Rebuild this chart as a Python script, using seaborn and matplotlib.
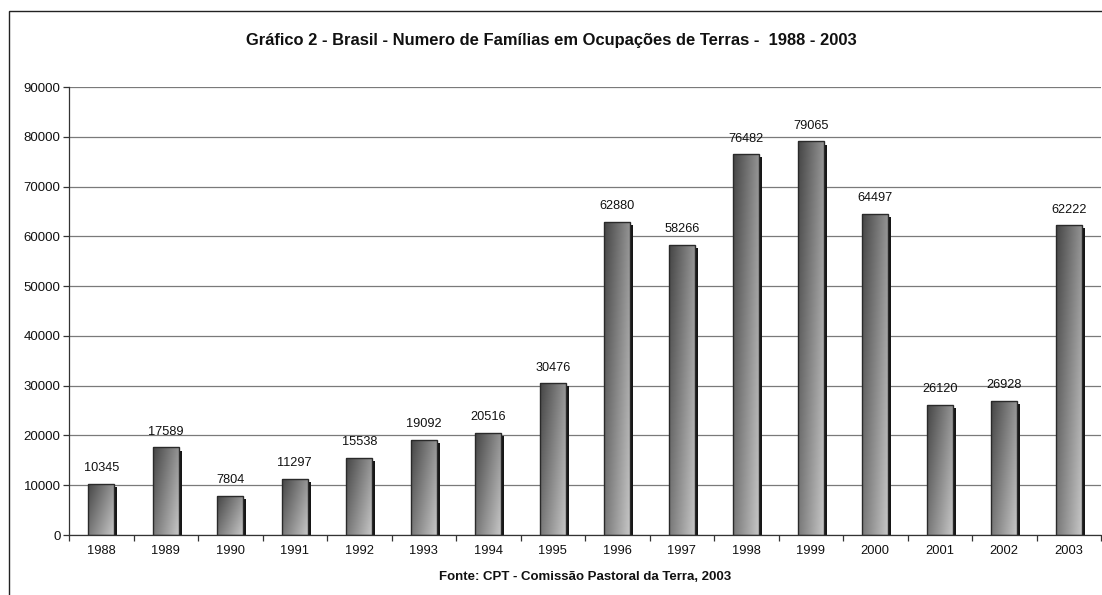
import numpy as np
import pandas as pd
import matplotlib
matplotlib.use("Agg")
import matplotlib.pyplot as plt
import matplotlib.transforms as mtransforms
from matplotlib.patches import Rectangle
import seaborn as sns

years = ["1988", "1989", "1990", "1991", "1992", "1993", "1994", "1995",
         "1996", "1997", "1998", "1999", "2000", "2001", "2002", "2003"]
familias = [10345, 17589, 7804, 11297, 15538, 19092, 20516, 30476,
            62880, 58266, 76482, 79065, 64497, 26120, 26928, 62222]
title = "Gráfico 2 - Brasil - Numero de Famílias em Ocupações de Terras -  1988 - 2003"
source = "Fonte: CPT - Comissão Pastoral da Terra, 2003"

sns.set_theme(style="white")
plt.rcParams["font.family"] = ["Liberation Sans", "DejaVu Sans"]

df = pd.DataFrame({"ano": years, "familias": familias})

fig = plt.figure(figsize=(11.02, 5.95), dpi=100)
ax = fig.add_axes([69 / 1102, 1 - 535 / 595, 1032 / 1102, (535 - 87) / 595])

sns.barplot(data=df, x="ano", y="familias", ax=ax, width=0.4,
            facecolor="none", edgecolor="#2a2a2a", linewidth=1.0, zorder=3)

# gradient + shadow per bar
grad_x = np.linspace(0, 1, 64)
grad_y = np.linspace(0, 1, 256)
GX, GY = np.meshgrid(grad_x, grad_y)
cmap = matplotlib.colors.LinearSegmentedColormap.from_list("g", ["#454545", "#c6c6c6"])
shadow_tr = mtransforms.offset_copy(ax.transData, fig=fig, x=2.3, y=-2.3, units="points")
for p in ax.patches:
    x0, y0 = p.get_x(), p.get_y()
    w, h = p.get_width(), p.get_height()
    sh = Rectangle((x0, y0), w, h, transform=shadow_tr, facecolor="#161616",
                   edgecolor="none", zorder=1.5)
    ax.add_patch(sh)
    # darker at top-left, lighter toward bottom-right
    t = 0.6 * GX + 0.4 * GY
    im = ax.imshow(t, cmap=cmap, extent=(x0, x0 + w, y0, y0 + h),
                   origin="upper", aspect="auto", zorder=2, vmin=0, vmax=1,
                   interpolation="bilinear")
    im.set_clip_path(p)

ax.set_xlim(-0.5, len(years) - 0.5)
ax.set_ylim(0, 90000)
ax.set_yticks(np.arange(0, 90001, 10000))
ax.set_yticklabels([str(v) for v in range(0, 90001, 10000)])
ax.set_axisbelow(True)
ax.yaxis.grid(True, color="#7a7a7a", linewidth=0.9)
ax.xaxis.grid(False)

for s in ["top", "right"]:
    ax.spines[s].set_visible(False)
for s in ["left", "bottom"]:
    ax.spines[s].set_visible(True)
    ax.spines[s].set_color("#333333")
    ax.spines[s].set_linewidth(0.9)

ax.tick_params(axis="y", which="major", length=4, width=0.9, color="#333333",
               labelsize=9.5, pad=2, left=True)
ax.tick_params(axis="x", which="major", length=0, labelsize=9.3, pad=7)
ax.set_xticks(np.arange(-0.5, len(years)), minor=True)
ax.tick_params(axis="x", which="minor", length=4, width=0.9, color="#333333", bottom=True)
for lab in ax.get_xticklabels() + ax.get_yticklabels():
    lab.set_color("#111111")

ax.set_xlabel(source, fontsize=9.5, fontweight="bold", labelpad=10, color="#111111")
ax.set_ylabel("")

for c in ax.containers:
    ax.bar_label(c, labels=[str(v) for v in familias], padding=7, fontsize=9.2, color="#111111")

fig.text(0.5, 1 - 40 / 595, title, ha="center", va="center", fontsize=11.9,
         fontweight="bold", color="#111111")

border = Rectangle((9 / 1102, -0.05), 1.2, 1 - 11 / 595 + 0.05, transform=fig.transFigure,
                   facecolor="none", edgecolor="#222222", linewidth=1.0)
fig.add_artist(border)

fig.savefig("out.png", dpi=100)
